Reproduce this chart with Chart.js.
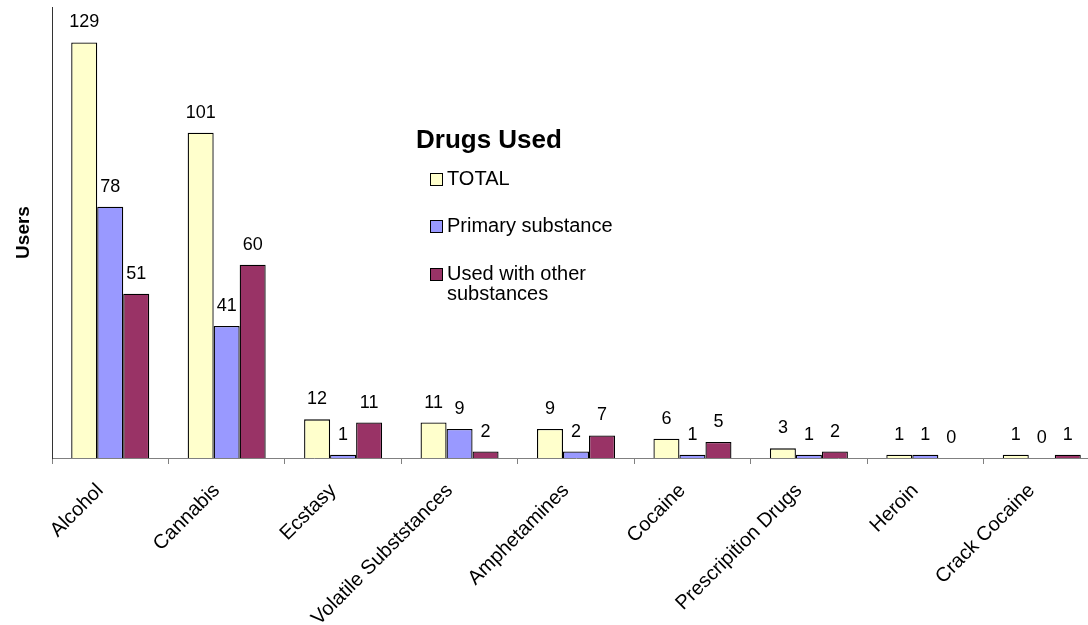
<!DOCTYPE html>
<html lang="en">

<head>
    <meta charset="UTF-8">
    <title>Drugs Used</title>
    <style>
        html, body { margin: 0; padding: 0; background: #fff; overflow: hidden; }
        #wrap { width: 1100px; height: 625px; }
    </style>
</head>

<body>
    <div id="wrap"><canvas id="grafica" width="1100" height="625"></canvas></div>

    <script src="https://cdn.jsdelivr.net/npm/chart.js@4/dist/chart.umd.min.js"></script>
    <script>
        // data
        const categorias = ['Alcohol', 'Cannabis', 'Ecstasy', 'Volatile Subststances', 'Amphetamines',
            'Cocaine', 'Prescripition Drugs', 'Heroin', 'Crack Cocaine'];
        const seriesNames = ['TOTAL', 'Primary substance', 'Used with other substances'];
        const total = [129, 101, 12, 11, 9, 6, 3, 1, 1];
        const primary = [78, 41, 1, 9, 2, 1, 1, 1, 0];
        const usedWithOther = [51, 60, 11, 2, 7, 5, 2, 0, 1];
        const colores = ['#FFFFCC', '#9999FF', '#993366'];

        Chart.defaults.font.family = "'Liberation Sans', Arial, sans-serif";
        Chart.defaults.color = '#000';

        // numbers above each bar
        const valueLabels = {
            id: 'valueLabels',
            afterDatasetsDraw(chart) {
                const ctx = chart.ctx;
                ctx.save();
                ctx.font = "18px 'Liberation Sans', Arial, sans-serif";
                ctx.fillStyle = '#000';
                ctx.textAlign = 'center';
                ctx.textBaseline = 'middle';
                chart.data.datasets.forEach((ds, i) => {
                    chart.getDatasetMeta(i).data.forEach((bar, j) => {
                        ctx.fillText(String(ds.data[j]), bar.x, bar.y - 20);
                    });
                });
                ctx.restore();
            }
        };

        // legend box floating inside the plot, like the original
        const floatingLegend = {
            id: 'floatingLegend',
            afterDraw(chart) {
                const ctx = chart.ctx;
                ctx.save();
                ctx.fillStyle = '#000';
                ctx.textBaseline = 'alphabetic';
                ctx.font = "bold 26px 'Liberation Sans', Arial, sans-serif";
                ctx.fillText('Drugs Used', 416, 148);

                ctx.font = "20px 'Liberation Sans', Arial, sans-serif";
                const rows = [185, 232, 280];
                chart.data.datasets.forEach((ds, i) => {
                    const y = rows[i];
                    ctx.fillStyle = ds.backgroundColor;
                    ctx.fillRect(430, y - 12, 12, 12);
                    ctx.strokeStyle = '#000';
                    ctx.lineWidth = 1;
                    ctx.strokeRect(430.5, y - 11.5, 12, 12);
                    ctx.fillStyle = '#000';
                    // wrap long names
                    const words = ds.label.split(' ');
                    let line = '', ly = y;
                    words.forEach(w => {
                        const test = line ? line + ' ' + w : w;
                        if (ctx.measureText(test).width > 190 && line) {
                            ctx.fillText(line, 447, ly);
                            line = w;
                            ly += 20;
                        } else {
                            line = test;
                        }
                    });
                    ctx.fillText(line, 447, ly);
                });
                ctx.restore();
            }
        };

        const ctx = document.getElementById('grafica').getContext('2d');
        const grafica = new Chart(ctx, {
            type: 'bar',
            data: {
                labels: categorias,
                datasets: [
                    { label: seriesNames[0], data: total, backgroundColor: colores[0] },
                    { label: seriesNames[1], data: primary, backgroundColor: colores[1] },
                    { label: seriesNames[2], data: usedWithOther, backgroundColor: colores[2] }
                ].map(d => Object.assign(d, {
                    borderColor: '#000',
                    borderWidth: 1.3,
                    borderSkipped: 'start',
                    categoryPercentage: 0.67,
                    barPercentage: 1
                }))
            },
            options: {
                responsive: false,
                animation: false,
                layout: { padding: { top: 7, right: 0, left: 0, bottom: 0 } },
                plugins: {
                    legend: { display: false },
                    tooltip: { enabled: false }
                },
                scales: {
                    x: {
                        grid: {
                            offset: true,
                            drawOnChartArea: false,
                            drawTicks: true,
                            tickLength: 6,
                            color: '#808080'
                        },
                        border: { display: true, color: '#808080', width: 1 },
                        ticks: {
                            autoSkip: false,
                            minRotation: 45,
                            maxRotation: 45,
                            padding: 15,
                            labelOffset: -10,
                            font: { size: 20 }
                        },
                        afterFit: s => { s.height = 167; }
                    },
                    y: {
                        min: 0,
                        max: 140,
                        grid: { display: false },
                        border: { display: true, color: '#333', width: 1 },
                        ticks: { display: false },
                        title: {
                            display: true,
                            text: 'Users',
                            font: { size: 19, weight: 'bold' },
                            padding: { top: 12, bottom: 0 }
                        },
                        afterFit: s => { s.width = 52; }
                    }
                }
            },
            plugins: [valueLabels, floatingLegend]
        });
    </script>

</body>

</html>
